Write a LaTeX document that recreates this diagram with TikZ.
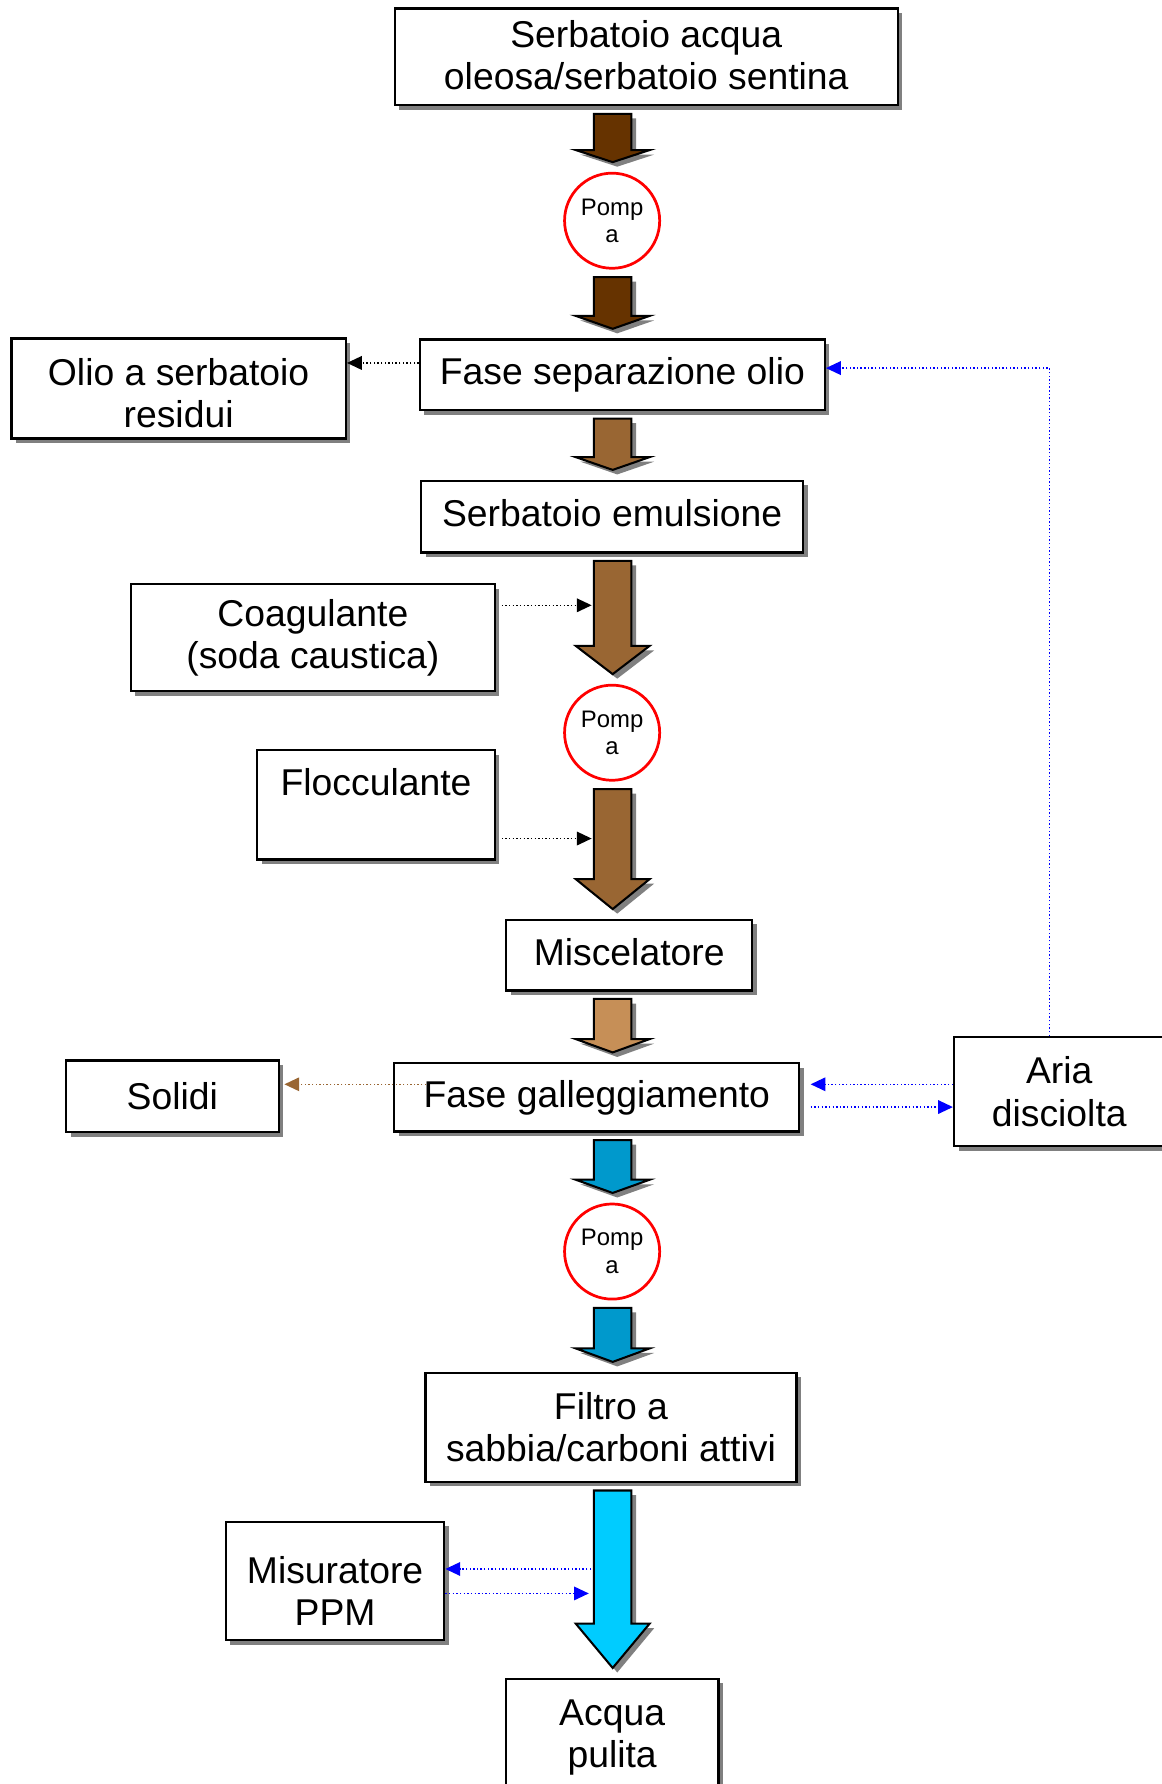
\documentclass[tikz,border=0pt]{standalone}
\usepackage{fontspec}
\setmainfont{Liberation Sans}
\usetikzlibrary{arrows.meta,calc,shadows}
\definecolor{darkbrown}{HTML}{663300}
\definecolor{midbrown}{HTML}{996633}
\definecolor{lightbrown}{RGB}{198,143,87}
\definecolor{waterblue}{HTML}{0099CC}
\definecolor{clearblue}{HTML}{00CCFF}
\definecolor{shadowgray}{HTML}{808080}
\newcommand\padtop[1]{\rule{0pt}{#1}}
\newcommand\padbot[1]{\rule[-#1]{0pt}{0pt}}
\newcommand\flowarrow[3]{%
\path[blockarrow=#1] let \p1=(#2.south),\p2=(#3.north),
 \n1={\y1-3.25pt},\n2={\y2+4.25pt},\n3={(\n2)+0.25*((\n1)-(\n2))} in
 (261pt,\n1)--(277.5pt,\n1)--(277.5pt,\n3)--(285.5pt,\n3)
 --(269.25pt,\n2)--(253pt,\n3)--(261pt,\n3)--cycle;}

\begin{document}
\begin{tikzpicture}[x=0.5pt,y=-0.5pt,
 shade/.style={drop shadow={shadow xshift=2pt,shadow yshift=-2pt,fill=shadowgray,opacity=1}},
 box/.style={draw,line width=1pt,fill=white,align=center,inner sep=0pt,shade,
  font=\fontsize{16.4}{18.5}\selectfont},
 pump/.style={circle,draw=red,line width=1.2pt,fill=white,minimum size=41.8pt,
  inner sep=0pt,align=center,font=\fontsize{10.5}{12}\selectfont},
 blockarrow/.style={fill=#1,draw=black,line width=0.9pt,line join=miter,shade},
 feed/.style={densely dotted,line width=0.6pt,-{Triangle[length=6.5pt,width=6pt]}},
 airfeed/.style={feed,blue},
 solidfeed/.style={feed,midbrown}]
\useasboundingbox (0,0) rectangle (1021,1568);
\node[box,minimum width=221pt,minimum height=42.5pt] (tank) at (568,50)
 {Serbatoio acqua\\oleosa/serbatoio sentina\padbot{2pt}};
\node[pump] (p1) at (538,194) {Pomp\\a};
\node[box,minimum width=178pt,minimum height=31pt] (sep) at (547,329.5)
 {Fase separazione olio};
\node[box,minimum width=147pt,minimum height=44pt] (olio) at (157,341.5)
 {\padtop{16pt}Olio a serbatoio\\residui};
\node[box,minimum width=168pt,minimum height=31.5pt] (emul) at (538,454)
 {Serbatoio emulsione\padbot{3pt}};
\node[box,minimum width=160pt,minimum height=47pt] (coag) at (275,560.5)
 {Coagulante\\(soda caustica)};
\node[pump] (p2) at (538,644) {Pomp\\a};
\node[box,minimum width=104.5pt,minimum height=48pt] (flocc) at (330.5,707.5)
 {\padtop{15.8pt}Flocculante\\\strut};
\node[box,minimum width=108pt,minimum height=31pt] (misc) at (553,839.5)
 {Miscelatore\padbot{3pt}};
\node[box,minimum width=178pt,minimum height=30pt] (gall) at (524.5,964.5)
 {Fase galleggiamento};
\node[box,minimum width=93.5pt,minimum height=31.5pt] (solidi) at (151.5,963.5)
 {Solidi};
\node[box,minimum width=92.5pt,minimum height=48pt] (aria) at (931,959.5)
 {Aria\\disciolta};
\node[pump] (p3) at (538,1100) {Pomp\\a};
\node[box,minimum width=163pt,minimum height=48pt] (filtro) at (537,1254.5)
 {Filtro a\\sabbia/carboni attivi};
\node[box,minimum width=96pt,minimum height=52pt] (misur) at (294.5,1389.5)
 {\padtop{20.8pt}Misuratore\\PPM};
\node[box,minimum width=93.5pt,minimum height=48pt] (acqua) at (538,1523.5)
 {\padtop{14.8pt}Acqua\\pulita};
\flowarrow{darkbrown}{tank}{p1}
\flowarrow{darkbrown}{p1}{sep}
\flowarrow{midbrown}{sep}{emul}
\flowarrow{midbrown}{emul}{p2}
\flowarrow{midbrown}{p2}{misc}
\flowarrow{lightbrown}{misc}{gall}
\flowarrow{waterblue}{gall}{p3}
\flowarrow{waterblue}{p3}{filtro}
\flowarrow{clearblue}{filtro}{acqua}
\coordinate (o1) at ([yshift=5.25pt]sep.west);
\coordinate (f1) at (520,532);
\coordinate (f2) at (520,737);
\coordinate (s1) at (374.5,953);
\coordinate (g1) at ([yshift=3.25pt]aria.west);
\coordinate (g2) at ([yshift=-6.75pt]aria.west);
\coordinate (r1) at ([xshift=-4.25pt]aria.north);
\coordinate (r2) at ([yshift=3pt]sep.east);
\coordinate (m1) at (519.5,1379);
\coordinate (m2) at (517.5,1400.5);
\draw[feed] (o1)--(o1 -| olio.east);
\draw[feed,shorten <=2.5pt] (coag.east |- f1)--(f1);
\draw[feed,shorten <=2.5pt] (flocc.east |- f2)--(f2);
\draw[solidfeed,shorten >=2pt] (s1)--(s1 -| solidi.east);
\draw[airfeed,shorten >=4.5pt] (g1)--(g1 -| gall.east);
\draw[airfeed,shorten <=4.5pt] (g2 -| gall.east)--(g2);
\draw[airfeed] (r1) |- (r2);
\draw[airfeed] (m1)--(m1 -| misur.east);
\draw[airfeed] (m2 -| misur.east)--(m2);
\end{tikzpicture}
\end{document}
